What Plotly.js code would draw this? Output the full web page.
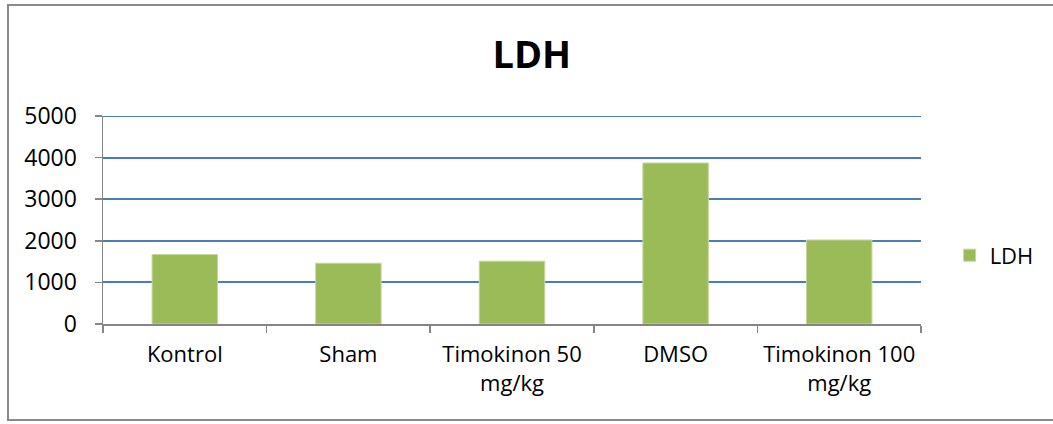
<!DOCTYPE html>
<html>
<head>
<meta charset="utf-8">
<script src="https://cdn.plot.ly/plotly-3.0.1.min.js"></script>
<style>
html,body{margin:0;padding:0;overflow:hidden;background:#fff;}
#wrap{position:relative;width:1053px;height:424px;overflow:hidden;}
#chart{position:absolute;left:0;top:0;width:1053px;height:424px;}
#frame{position:absolute;left:7px;top:4px;width:1060px;height:417px;border:2px solid #8a8a8a;pointer-events:none;box-sizing:border-box;}
</style>
</head>
<body>
<div id="wrap"><div id="chart"></div><div id="frame"></div></div>
<script>
const categories = ["Kontrol", "Sham", "Timokinon 50<br>mg/kg", "DMSO", "Timokinon 100<br>mg/kg"];
const ldhValues = [1670, 1460, 1510, 3870, 2020];
const yTickValues = [0, 1000, 2000, 3000, 4000, 5000];
const seriesName = "LDH";
const chartTitle = "LDH";

const FONT = "Open Sans, Lato, sans-serif";
const yMax = yTickValues[yTickValues.length - 1];

const trace = {
  type: "bar",
  x: categories,
  y: ldhValues,
  name: seriesName,
  width: 0.4,
  marker: {color: "#9bbb59", line: {color: "#c3d69b", width: 1}},
  showlegend: true
};

const layout = {
  width: 1053, height: 424,
  margin: {l: 103, r: 132, t: 116, b: 100, pad: 0},
  paper_bgcolor: "#ffffff",
  plot_bgcolor: "#ffffff",
  font: {family: FONT, size: 23, color: "#000000"},
  title: {text: "<b>" + chartTitle + "</b>", font: {family: FONT, size: 38, color: "#000"}, x: 0.505, xanchor: "center", y: 0.87, yanchor: "middle"},
  bargap: 0.6,
  xaxis: {
    type: "category",
    showline: true, linecolor: "#868686", linewidth: 1.5,
    ticks: "outside", ticklen: 7, tickcolor: "#868686", tickwidth: 1.5,
    tickson: "boundaries",
    showgrid: false, zeroline: false,
    ticklabelstandoff: 10,
    tickfont: {family: FONT, size: 22},
    fixedrange: true
  },
  yaxis: {
    range: [0, yMax],
    tickvals: yTickValues,
    ticktext: yTickValues.map(String),
    showline: true, linecolor: "#868686", linewidth: 1.5,
    ticks: "outside", ticklen: 7, tickcolor: "#868686", tickwidth: 1.5,
    showgrid: true, gridcolor: "#4a7ebb", gridwidth: 2,
    zeroline: false,
    ticklabelstandoff: 13,
    tickfont: {family: FONT, size: 23},
    fixedrange: true
  },
  shapes: [{
    type: "line", xref: "paper", yref: "y", x0: 0, x1: 1, y0: yMax, y1: yMax,
    line: {color: "#4a7ebb", width: 2}, layer: "below"
  }],
  legend: {x: 1.035, xanchor: "left", y: 0.33, yanchor: "middle", font: {family: FONT, size: 22}, itemwidth: 30, bgcolor: "rgba(0,0,0,0)"},
  showlegend: true
};

Plotly.newPlot("chart", [trace], layout, {displayModeBar: false, staticPlot: true});
</script>
</body>
</html>
